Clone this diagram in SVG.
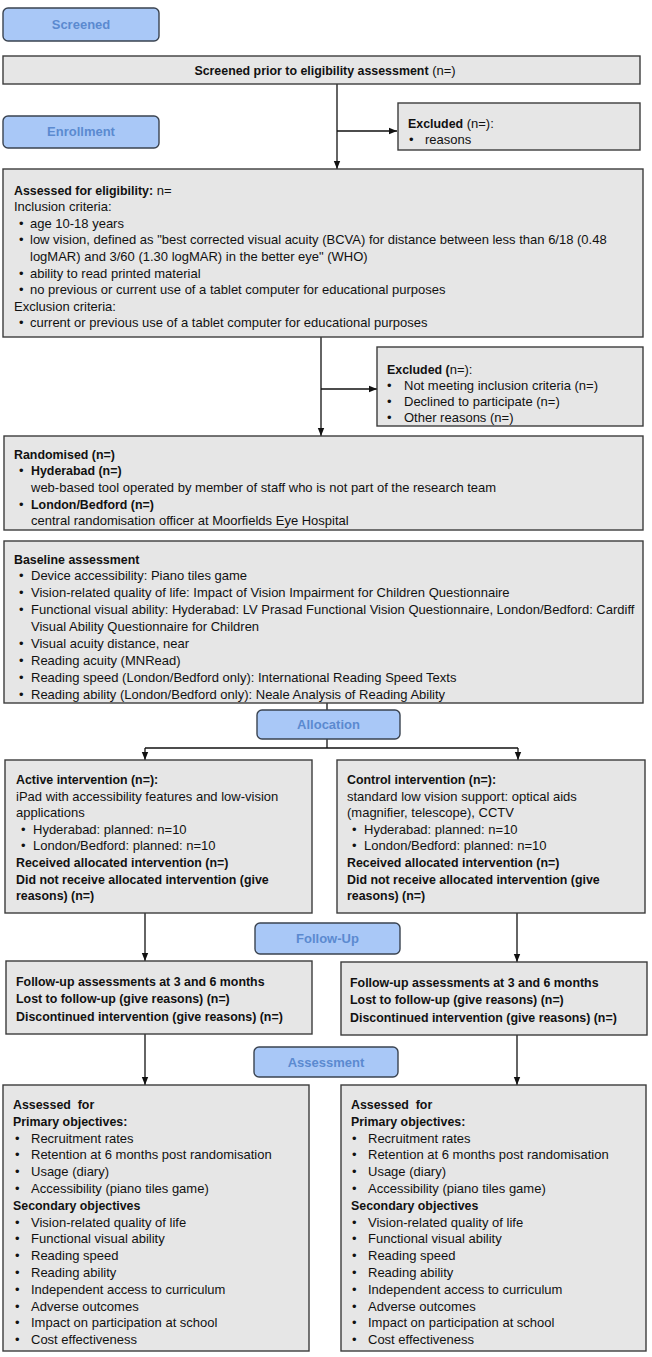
<svg xmlns="http://www.w3.org/2000/svg" width="652" height="1357" viewBox="0 0 652 1357">
<style>
text{font-family:"Liberation Sans",Arial,sans-serif;font-size:13px;fill:#111}
.b{font-weight:bold;font-size:12.4px}
.box{fill:#e6e6e6;stroke:#3c3c3c;stroke-width:1.4}
.lab{fill:#a9c8f7;stroke:#3a4350;stroke-width:1.4}
.lt{fill:#5b8ad0;font-weight:bold;text-anchor:middle}
.ln{fill:none;stroke:#111;stroke-width:1.3}
</style>
<defs>
<marker id="ah" markerUnits="userSpaceOnUse" markerWidth="8" markerHeight="8" viewBox="0 0 8 8" refX="8" refY="4" orient="auto">
<path d="M0,0.8 L8,4 L0,7.2 Z" fill="#111"/>
</marker>
</defs>
<rect width="652" height="1357" fill="#fff"/>

<g id="connectors">
<path class="ln" d="M337,84 V169" marker-end="url(#ah)"/>
<path class="ln" d="M337,131 H397" marker-end="url(#ah)"/>
<path class="ln" d="M321,337 V436" marker-end="url(#ah)"/>
<path class="ln" d="M321,389 H377" marker-end="url(#ah)"/>
<path class="ln" d="M327,703 V710"/>
<path class="ln" d="M327,739 V748"/>
<path class="ln" d="M145,748 H518"/>
<path class="ln" d="M145,748 V760" marker-end="url(#ah)"/>
<path class="ln" d="M518,748 V760" marker-end="url(#ah)"/>
<path class="ln" d="M145,913 V961" marker-end="url(#ah)"/>
<path class="ln" d="M517,913 V962" marker-end="url(#ah)"/>
<path class="ln" d="M145,1034 V1085" marker-end="url(#ah)"/>
<path class="ln" d="M517,1035 V1085" marker-end="url(#ah)"/>
</g>

<g id="lab-screened"><rect class="lab" x="3" y="8" width="156" height="33" rx="5"/><text class="lt" x="81" y="28.5">Screened</text></g>
<g id="lab-enrollment"><rect class="lab" x="3" y="116" width="156" height="32" rx="5"/><text class="lt" x="81" y="136">Enrollment</text></g>
<g id="lab-allocation"><rect class="lab" x="257" y="710" width="143" height="29" rx="5"/><text class="lt" x="328.5" y="729">Allocation</text></g>
<g id="lab-followup"><rect class="lab" x="255" y="923" width="145" height="31" rx="5"/><text class="lt" x="327.5" y="943">Follow-Up</text></g>
<g id="lab-assessment"><rect class="lab" x="254" y="1047" width="144" height="30" rx="5"/><text class="lt" x="326" y="1066.5">Assessment</text></g>

<g id="screened">
<rect class="box" x="3" y="56" width="637" height="28"/>
<text x="325" y="74.5" text-anchor="middle"><tspan class="b">Screened prior to eligibility assessment</tspan> (n=)</text>
</g>

<g id="excluded1">
<rect class="box" x="398" y="103" width="242" height="47"/>
<text x="408" y="127.5"><tspan class="b">Excluded</tspan> (n=):</text>
<text x="409" y="143.5">•</text><text x="425" y="143.5">reasons</text>
</g>

<g id="eligibility">
<rect class="box" x="3" y="169" width="640" height="168"/>
<text x="14" y="194.5"><tspan class="b">Assessed for eligibility:</tspan> n=</text>
<text x="14" y="211.1">Inclusion criteria:</text>
<text x="19" y="227.7">•</text><text x="30" y="227.7">age 10-18 years</text>
<text x="19" y="244.3">•</text><text x="30" y="244.3">low vision, defined as "best corrected visual acuity (BCVA) for distance between less than 6/18 (0.48</text>
<text x="30" y="260.9">logMAR) and 3/60 (1.30 logMAR) in the better eye" (WHO)</text>
<text x="19" y="277.5">•</text><text x="30" y="277.5">ability to read printed material</text>
<text x="19" y="294.1">•</text><text x="30" y="294.1">no previous or current use of a tablet computer for educational purposes</text>
<text x="14" y="310.7">Exclusion criteria:</text>
<text x="19" y="327.3">•</text><text x="30" y="327.3">current or previous use of a tablet computer for educational purposes</text>
</g>

<g id="excluded2">
<rect class="box" x="377" y="347" width="266" height="79"/>
<text x="387" y="373.5"><tspan class="b">Excluded (</tspan>n=):</text>
<text x="387" y="389.5">•</text><text x="404" y="389.5">Not meeting inclusion criteria (n=)</text>
<text x="387" y="405.5">•</text><text x="404" y="405.5">Declined to participate (n=)</text>
<text x="387" y="421.5">•</text><text x="404" y="421.5">Other reasons (n=)</text>
</g>

<g id="randomised">
<rect class="box" x="4" y="436" width="639" height="94"/>
<text x="14" y="458.5" class="b">Randomised (n=)</text>
<text x="19" y="475.2">•</text><text x="31" y="475.2" class="b">Hyderabad (n=)</text>
<text x="31" y="491.9">web-based tool operated by member of staff who is not part of the research team</text>
<text x="19" y="508.6">•</text><text x="31" y="508.6" class="b">London/Bedford (n=)</text>
<text x="31" y="525.3">central randomisation officer at Moorfields Eye Hospital</text>
</g>

<g id="baseline">
<rect class="box" x="4" y="541" width="639" height="162"/>
<text x="14" y="563.5" class="b">Baseline assessment</text>
<text x="19" y="580.4">•</text><text x="31" y="580.4">Device accessibility: Piano tiles game</text>
<text x="19" y="597.3">•</text><text x="31" y="597.3">Vision-related quality of life: Impact of Vision Impairment for Children Questionnaire</text>
<text x="19" y="614.2">•</text><text x="31" y="614.2">Functional visual ability: Hyderabad: LV Prasad Functional Vision Questionnaire, London/Bedford: Cardiff</text>
<text x="31" y="631.1">Visual Ability Questionnaire for Children</text>
<text x="19" y="648">•</text><text x="31" y="648">Visual acuity distance, near</text>
<text x="19" y="664.9">•</text><text x="31" y="664.9">Reading acuity (MNRead)</text>
<text x="19" y="681.8">•</text><text x="31" y="681.8">Reading speed (London/Bedford only): International Reading Speed Texts</text>
<text x="19" y="698.7">•</text><text x="31" y="698.7">Reading ability (London/Bedford only): Neale Analysis of Reading Ability</text>
</g>

<g id="active">
<rect class="box" x="5" y="760" width="307" height="153"/>
<text x="16" y="784" class="b">Active intervention (n=):</text>
<text x="16" y="800.6">iPad with accessibility features and low-vision</text>
<text x="16" y="817.2">applications</text>
<text x="21" y="833.8">•</text><text x="33" y="833.8">Hyderabad: planned: n=10</text>
<text x="21" y="850.4">•</text><text x="33" y="850.4">London/Bedford: planned: n=10</text>
<text x="16" y="867" class="b">Received allocated intervention (n=)</text>
<text x="16" y="883.6" class="b">Did not receive allocated intervention (give</text>
<text x="16" y="900.2" class="b">reasons) (n=)</text>
</g>

<g id="control">
<rect class="box" x="337" y="760" width="308" height="153"/>
<text x="347" y="784" class="b">Control intervention (n=):</text>
<text x="347" y="800.6">standard low vision support: optical aids</text>
<text x="347" y="817.2">(magnifier, telescope), CCTV</text>
<text x="352" y="833.8">•</text><text x="364" y="833.8">Hyderabad: planned: n=10</text>
<text x="352" y="850.4">•</text><text x="364" y="850.4">London/Bedford: planned: n=10</text>
<text x="347" y="867" class="b">Received allocated intervention (n=)</text>
<text x="347" y="883.6" class="b">Did not receive allocated intervention (give</text>
<text x="347" y="900.2" class="b">reasons) (n=)</text>
</g>

<g id="followup-left">
<rect class="box" x="6" y="961" width="306" height="73"/>
<text x="16" y="985.5" class="b">Follow-up assessments at 3 and 6 months</text>
<text x="16" y="1003" class="b">Lost to follow-up (give reasons) (n=)</text>
<text x="16" y="1020.5" class="b">Discontinued intervention (give reasons) (n=)</text>
</g>

<g id="followup-right">
<rect class="box" x="341" y="962" width="306" height="73"/>
<text x="350" y="986.5" class="b">Follow-up assessments at 3 and 6 months</text>
<text x="350" y="1004" class="b">Lost to follow-up (give reasons) (n=)</text>
<text x="350" y="1021.5" class="b">Discontinued intervention (give reasons) (n=)</text>
</g>

<g id="assess-left">
<rect class="box" x="3" y="1085" width="306" height="266"/>
<text x="13" y="1109" class="b">Assessed&#160; for</text>
<text x="13" y="1125.8" class="b">Primary objectives:</text>
<text x="15" y="1142.6">•</text><text x="31" y="1142.6">Recruitment rates</text>
<text x="15" y="1159.4">•</text><text x="31" y="1159.4">Retention at 6 months post randomisation</text>
<text x="15" y="1176.2">•</text><text x="31" y="1176.2">Usage (diary)</text>
<text x="15" y="1193">•</text><text x="31" y="1193">Accessibility (piano tiles game)</text>
<text x="13" y="1209.8" class="b">Secondary objectives</text>
<text x="15" y="1226.6">•</text><text x="31" y="1226.6">Vision-related quality of life</text>
<text x="15" y="1243.4">•</text><text x="31" y="1243.4">Functional visual ability</text>
<text x="15" y="1260.2">•</text><text x="31" y="1260.2">Reading speed</text>
<text x="15" y="1277">•</text><text x="31" y="1277">Reading ability</text>
<text x="15" y="1293.8">•</text><text x="31" y="1293.8">Independent access to curriculum</text>
<text x="15" y="1310.6">•</text><text x="31" y="1310.6">Adverse outcomes</text>
<text x="15" y="1327.4">•</text><text x="31" y="1327.4">Impact on participation at school</text>
<text x="15" y="1344.2">•</text><text x="31" y="1344.2">Cost effectiveness</text>
</g>

<g id="assess-right">
<rect class="box" x="341" y="1085" width="305" height="266"/>
<text x="351" y="1109" class="b">Assessed&#160; for</text>
<text x="351" y="1125.8" class="b">Primary objectives:</text>
<text x="352" y="1142.6">•</text><text x="368" y="1142.6">Recruitment rates</text>
<text x="352" y="1159.4">•</text><text x="368" y="1159.4">Retention at 6 months post randomisation</text>
<text x="352" y="1176.2">•</text><text x="368" y="1176.2">Usage (diary)</text>
<text x="352" y="1193">•</text><text x="368" y="1193">Accessibility (piano tiles game)</text>
<text x="351" y="1209.8" class="b">Secondary objectives</text>
<text x="352" y="1226.6">•</text><text x="368" y="1226.6">Vision-related quality of life</text>
<text x="352" y="1243.4">•</text><text x="368" y="1243.4">Functional visual ability</text>
<text x="352" y="1260.2">•</text><text x="368" y="1260.2">Reading speed</text>
<text x="352" y="1277">•</text><text x="368" y="1277">Reading ability</text>
<text x="352" y="1293.8">•</text><text x="368" y="1293.8">Independent access to curriculum</text>
<text x="352" y="1310.6">•</text><text x="368" y="1310.6">Adverse outcomes</text>
<text x="352" y="1327.4">•</text><text x="368" y="1327.4">Impact on participation at school</text>
<text x="352" y="1344.2">•</text><text x="368" y="1344.2">Cost effectiveness</text>
</g>
</svg>
